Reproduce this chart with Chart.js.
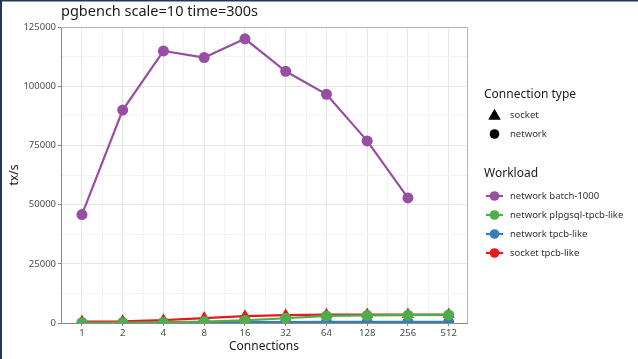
<!DOCTYPE html>
<html>
<head>
<meta charset="utf-8">
<script src="https://cdn.jsdelivr.net/npm/chart.js@4/dist/chart.umd.min.js"></script>
<style>
  html, body { margin: 0; padding: 0; background: #fff; }
  #wrap { position: relative; width: 638px; height: 359px; }
</style>
</head>
<body>
<div id="wrap"><canvas id="c" width="638" height="359"></canvas></div>
<script>
// pgbench throughput by client connection count
const connections = [1, 2, 4, 8, 16, 32, 64, 128, 256, 512];
const yTickValues = [0, 25000, 50000, 75000, 100000, 125000];

const batch1000   = [45800, 89900, 114900, 112100, 120000, 106300, 96600, 76900, 52800, null];
const plpgsqlTpcb = [100, 150, 300, 600, 1100, 2000, 3000, 3200, 3300, 3400];
const networkTpcb = [150, 200, 250, 300, 350, 400, 450, 450, 450, 450];
const socketTpcb  = [600, 700, 1200, 2100, 2900, 3300, 3500, 3600, 3600, 3600];

const connectionTypes = ['socket', 'network'];
const workloads = ['network batch-1000', 'network plpgsql-tpcb-like', 'network tpcb-like', 'socket tpcb-like'];

const COLORS = {
  'network batch-1000': '#984ea3',
  'network plpgsql-tpcb-like': '#4daf4a',
  'network tpcb-like': '#377eb8',
  'socket tpcb-like': '#e41a1c'
};
const FONT = '"Noto Sans", "Open Sans", sans-serif';

function points(values) {
  return connections.map((c, i) => ({ x: c, y: values[i] }));
}

function series(label, values, shape) {
  const col = COLORS[label];
  return {
    label,
    data: points(values),
    borderColor: col,
    backgroundColor: col,
    borderWidth: 2.2,
    pointStyle: shape,
    pointRadius: shape === 'triangle' ? 7 : 5.5,
    pointBorderWidth: 0,
    pointHoverRadius: shape === 'triangle' ? 7 : 5.5,
    spanGaps: false,
    tension: 0,
    clip: 0
  };
}

// minor breaks sit halfway (in log2 space) between the labelled breaks
const minorX = connections.slice(0, -1).map(c => c * Math.SQRT2);
const isMajorX = v => connections.some(c => Math.abs(c - v) < 1e-6);
const isMajorY = v => v % 25000 === 0;

const panelFrame = {
  id: 'panelFrame',
  beforeDraw(chart) {
    const ctx = chart.ctx;
    ctx.save();
    ctx.fillStyle = '#ffffff';
    ctx.fillRect(0, 0, chart.width, chart.height);
    ctx.restore();
  },
  afterDatasetsDraw(chart) {
    const { ctx, chartArea: a } = chart;
    ctx.save();
    ctx.strokeStyle = '#b3b3b3';
    ctx.lineWidth = 1;
    ctx.beginPath();
    ctx.moveTo(a.left, a.top + 0.5);
    ctx.lineTo(a.right + 0.5, a.top + 0.5);
    ctx.lineTo(a.right + 0.5, a.bottom);
    ctx.stroke();
    ctx.restore();
  },
  afterDraw(chart) {
    const ctx = chart.ctx;
    ctx.save();
    // title
    ctx.fillStyle = '#1a1a1a';
    ctx.font = '14.5px ' + FONT;
    ctx.textAlign = 'left';
    ctx.textBaseline = 'alphabetic';
    ctx.fillText('pgbench scale=10 time=300s', 61, 16);

    // legend: connection type
    const keyX = 494.5, textX = 510;
    ctx.font = '12px ' + FONT;
    ctx.textBaseline = 'middle';
    ctx.fillText('Connection type', 484, 95);
    ctx.font = '9.5px ' + FONT;
    connectionTypes.forEach((t, i) => {
      const y = 115 + i * 19;
      ctx.fillStyle = '#000';
      if (t === 'socket') {
        Chart.helpers.drawPoint(ctx, { pointStyle: 'triangle', radius: 7, borderWidth: 0 }, keyX, y + 1);
        ctx.fill();
      } else {
        ctx.beginPath();
        ctx.arc(keyX, y, 4.8, 0, Math.PI * 2);
        ctx.fill();
      }
      ctx.fillStyle = '#333';
      ctx.fillText(t, textX, y);
    });

    // legend: workload
    ctx.fillStyle = '#1a1a1a';
    ctx.font = '12px ' + FONT;
    ctx.fillText('Workload', 484, 174);
    ctx.font = '9.5px ' + FONT;
    workloads.forEach((w, i) => {
      const y = 196 + i * 19;
      const col = COLORS[w];
      ctx.strokeStyle = col;
      ctx.lineWidth = 2.2;
      ctx.beginPath();
      ctx.moveTo(486, y);
      ctx.lineTo(503, y);
      ctx.stroke();
      ctx.fillStyle = col;
      ctx.beginPath();
      ctx.arc(keyX, y, 4.8, 0, Math.PI * 2);
      ctx.fill();
      ctx.fillStyle = '#333';
      ctx.fillText(w, textX, y);
    });

    // frame edges of the page
    ctx.fillStyle = '#1c3a5e';
    ctx.fillRect(0, 0, 2, chart.height);
    ctx.fillRect(0, 0, chart.width, 1.5);
    ctx.restore();
  }
};

new Chart(document.getElementById('c'), {
  type: 'line',
  data: {
    datasets: [
      series('network batch-1000', batch1000, 'circle'),
      series('network plpgsql-tpcb-like', plpgsqlTpcb, 'circle'),
      series('socket tpcb-like', socketTpcb, 'triangle'),
      series('network tpcb-like', networkTpcb, 'circle')
    ]
  },
  options: {
    responsive: false,
    animation: false,
    events: [],
    layout: { padding: { left: 0, top: 27, right: 171, bottom: 0 } },
    plugins: { legend: { display: false }, tooltip: { enabled: false }, title: { display: false } },
    scales: {
      x: {
        type: 'logarithmic',
        min: Math.pow(2, -0.45),
        max: Math.pow(2, 9.45),
        afterBuildTicks(scale) {
          scale.ticks = connections.concat(minorX).sort((a, b) => a - b).map(v => ({ value: v, major: false }));
        },
        afterFit(scale) { scale.height = 36; },
        border: { display: true, color: '#8a8a8a', width: 1 },
        grid: {
          drawTicks: true,
          tickLength: 3,
          color: ctx => (ctx.tick && isMajorX(ctx.tick.value)) ? '#e6e6e6' : '#f3f3f3',
          tickColor: ctx => (ctx.tick && isMajorX(ctx.tick.value)) ? '#8a8a8a' : 'rgba(0,0,0,0)'
        },
        ticks: {
          autoSkip: false,
          maxRotation: 0,
          padding: 2,
          color: '#4d4d4d',
          font: { family: FONT, size: 9.5 },
          callback: v => isMajorX(v) ? String(Math.round(v)) : ''
        },
        title: {
          display: true,
          text: 'Connections',
          color: '#1a1a1a',
          font: { family: FONT, size: 12 },
          padding: { top: 0, bottom: 5 }
        }
      },
      y: {
        type: 'linear',
        min: 0,
        max: 125000,
        afterBuildTicks(scale) {
          const t = [];
          for (let i = 0; i < yTickValues.length; i++) {
            t.push({ value: yTickValues[i] });
            if (i < yTickValues.length - 1) t.push({ value: (yTickValues[i] + yTickValues[i + 1]) / 2 });
          }
          scale.ticks = t;
        },
        afterFit(scale) { scale.width = 61; },
        border: { display: true, color: '#8a8a8a', width: 1 },
        grid: {
          drawTicks: true,
          tickLength: 3,
          color: ctx => (ctx.tick && isMajorY(ctx.tick.value)) ? '#e6e6e6' : '#f3f3f3',
          tickColor: ctx => (ctx.tick && isMajorY(ctx.tick.value)) ? '#8a8a8a' : 'rgba(0,0,0,0)'
        },
        ticks: {
          autoSkip: false,
          padding: 2,
          color: '#4d4d4d',
          font: { family: FONT, size: 9.5 },
          callback: v => isMajorY(v) ? String(v) : ''
        },
        title: {
          display: true,
          text: 'tx/s',
          color: '#1a1a1a',
          font: { family: FONT, size: 12 },
          padding: { top: 7, bottom: 0 }
        }
      }
    }
  },
  plugins: [panelFrame]
});
</script>
</body>
</html>
